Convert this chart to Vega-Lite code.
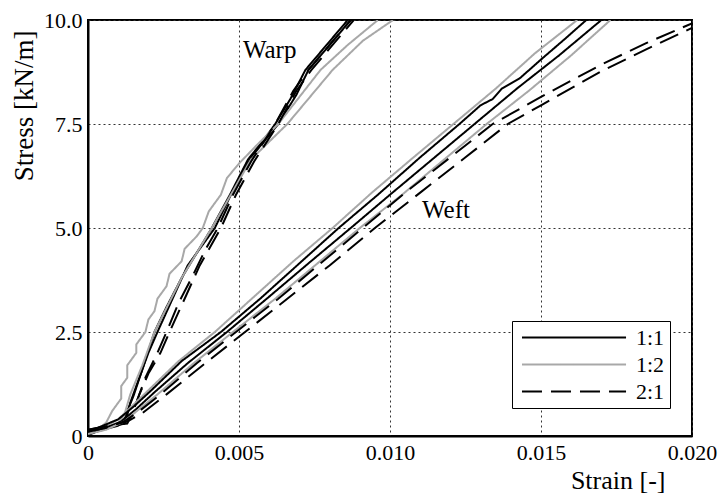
{
  "$schema": "https://vega.github.io/schema/vega-lite/v6.json",
  "width": 604,
  "height": 416,
  "autosize": {"type": "none"},
  "padding": {"left": 88, "top": 20, "right": 28, "bottom": 60},
  "background": "white",
  "config": {
    "font": "Liberation Serif",
    "view": {"stroke": "black", "strokeWidth": 2},
    "axis": {
      "labelFont": "Liberation Serif",
      "labelFontSize": 22,
      "labelColor": "black",
      "titleFont": "Liberation Serif",
      "titleFontSize": 26,
      "titleFontWeight": "normal",
      "titleColor": "black",
      "domainColor": "black",
      "domainWidth": 2,
      "ticks": false,
      "labelPadding": 6,
      "labelFlush": false,
      "grid": true,
      "gridColor": "#333333",
      "gridDash": [2, 3],
      "gridWidth": 1,
      "gridOpacity": 1
    },
    "legend": {
      "labelFont": "Liberation Serif",
      "labelFontSize": 22,
      "labelColor": "black"
    }
  },
  "layer": [
    {
      "data": {"values": [
        {"c":"wa-b1","r":"1:1","x":0,"y":0.05},{"c":"wa-b1","r":"1:1","x":0.0005,"y":0.15},{"c":"wa-b1","r":"1:1","x":0.0010,"y":0.25},{"c":"wa-b1","r":"1:1","x":0.0012,"y":0.35},{"c":"wa-b1","r":"1:1","x":0.0013,"y":0.6},{"c":"wa-b1","r":"1:1","x":0.0015,"y":0.95},{"c":"wa-b1","r":"1:1","x":0.0018,"y":1.6},{"c":"wa-b1","r":"1:1","x":0.0022,"y":2.5},{"c":"wa-b1","r":"1:1","x":0.0026,"y":3.1},{"c":"wa-b1","r":"1:1","x":0.0031,"y":3.8},{"c":"wa-b1","r":"1:1","x":0.0036,"y":4.4},{"c":"wa-b1","r":"1:1","x":0.0041,"y":5.0},{"c":"wa-b1","r":"1:1","x":0.0047,"y":5.8},{"c":"wa-b1","r":"1:1","x":0.0053,"y":6.65},{"c":"wa-b1","r":"1:1","x":0.0058,"y":7.1},{"c":"wa-b1","r":"1:1","x":0.0062,"y":7.5},{"c":"wa-b1","r":"1:1","x":0.0067,"y":8.1},{"c":"wa-b1","r":"1:1","x":0.0072,"y":8.8},{"c":"wa-b1","r":"1:1","x":0.0079,"y":9.4},{"c":"wa-b1","r":"1:1","x":0.0086,"y":10.0},
        {"c":"wa-b2","r":"1:1","x":0,"y":0.1},{"c":"wa-b2","r":"1:1","x":0.0006,"y":0.2},{"c":"wa-b2","r":"1:1","x":0.0011,"y":0.3},{"c":"wa-b2","r":"1:1","x":0.0013,"y":0.5},{"c":"wa-b2","r":"1:1","x":0.0014,"y":0.8},{"c":"wa-b2","r":"1:1","x":0.0017,"y":1.4},{"c":"wa-b2","r":"1:1","x":0.0020,"y":2.0},{"c":"wa-b2","r":"1:1","x":0.0023,"y":2.5},{"c":"wa-b2","r":"1:1","x":0.0028,"y":3.3},{"c":"wa-b2","r":"1:1","x":0.0033,"y":4.1},{"c":"wa-b2","r":"1:1","x":0.0042,"y":5.0},{"c":"wa-b2","r":"1:1","x":0.0048,"y":5.9},{"c":"wa-b2","r":"1:1","x":0.0054,"y":6.7},{"c":"wa-b2","r":"1:1","x":0.0063,"y":7.5},{"c":"wa-b2","r":"1:1","x":0.0069,"y":8.2},{"c":"wa-b2","r":"1:1","x":0.0073,"y":8.8},{"c":"wa-b2","r":"1:1","x":0.0080,"y":9.4},{"c":"wa-b2","r":"1:1","x":0.0087,"y":10.0},
        {"c":"wa-g1","r":"1:2","x":0,"y":0.05},{"c":"wa-g1","r":"1:2","x":0.0004,"y":0.2},{"c":"wa-g1","r":"1:2","x":0.0006,"y":0.32},{"c":"wa-g1","r":"1:2","x":0.0008,"y":0.6},{"c":"wa-g1","r":"1:2","x":0.0011,"y":0.9},{"c":"wa-g1","r":"1:2","x":0.0011,"y":1.2},{"c":"wa-g1","r":"1:2","x":0.0013,"y":1.4},{"c":"wa-g1","r":"1:2","x":0.0013,"y":1.7},{"c":"wa-g1","r":"1:2","x":0.0016,"y":2.0},{"c":"wa-g1","r":"1:2","x":0.0016,"y":2.2},{"c":"wa-g1","r":"1:2","x":0.0019,"y":2.5},{"c":"wa-g1","r":"1:2","x":0.0020,"y":2.8},{"c":"wa-g1","r":"1:2","x":0.0022,"y":3.0},{"c":"wa-g1","r":"1:2","x":0.0023,"y":3.3},{"c":"wa-g1","r":"1:2","x":0.0026,"y":3.6},{"c":"wa-g1","r":"1:2","x":0.0027,"y":3.9},{"c":"wa-g1","r":"1:2","x":0.0031,"y":4.2},{"c":"wa-g1","r":"1:2","x":0.0032,"y":4.5},{"c":"wa-g1","r":"1:2","x":0.0036,"y":4.8},{"c":"wa-g1","r":"1:2","x":0.0038,"y":5.0},{"c":"wa-g1","r":"1:2","x":0.0040,"y":5.4},{"c":"wa-g1","r":"1:2","x":0.0044,"y":5.8},{"c":"wa-g1","r":"1:2","x":0.0046,"y":6.2},{"c":"wa-g1","r":"1:2","x":0.0050,"y":6.55},{"c":"wa-g1","r":"1:2","x":0.0056,"y":7.0},{"c":"wa-g1","r":"1:2","x":0.0063,"y":7.5},{"c":"wa-g1","r":"1:2","x":0.0070,"y":8.15},{"c":"wa-g1","r":"1:2","x":0.0077,"y":8.8},{"c":"wa-g1","r":"1:2","x":0.0086,"y":9.4},{"c":"wa-g1","r":"1:2","x":0.0096,"y":10.0},
        {"c":"wa-g2","r":"1:2","x":0,"y":0.1},{"c":"wa-g2","r":"1:2","x":0.0006,"y":0.2},{"c":"wa-g2","r":"1:2","x":0.0010,"y":0.3},{"c":"wa-g2","r":"1:2","x":0.0012,"y":0.5},{"c":"wa-g2","r":"1:2","x":0.0014,"y":1.0},{"c":"wa-g2","r":"1:2","x":0.0018,"y":1.7},{"c":"wa-g2","r":"1:2","x":0.0022,"y":2.5},{"c":"wa-g2","r":"1:2","x":0.0031,"y":3.8},{"c":"wa-g2","r":"1:2","x":0.0041,"y":5.0},{"c":"wa-g2","r":"1:2","x":0.0054,"y":6.65},{"c":"wa-g2","r":"1:2","x":0.0066,"y":7.5},{"c":"wa-g2","r":"1:2","x":0.0081,"y":8.8},{"c":"wa-g2","r":"1:2","x":0.0091,"y":9.5},{"c":"wa-g2","r":"1:2","x":0.0101,"y":10.0},
        {"c":"wa-d1","r":"2:1","x":0,"y":0.1},{"c":"wa-d1","r":"2:1","x":0.0006,"y":0.2},{"c":"wa-d1","r":"2:1","x":0.0012,"y":0.3},{"c":"wa-d1","r":"2:1","x":0.0014,"y":0.5},{"c":"wa-d1","r":"2:1","x":0.0016,"y":0.8},{"c":"wa-d1","r":"2:1","x":0.0019,"y":1.4},{"c":"wa-d1","r":"2:1","x":0.0023,"y":2.0},{"c":"wa-d1","r":"2:1","x":0.0026,"y":2.5},{"c":"wa-d1","r":"2:1","x":0.0030,"y":3.2},{"c":"wa-d1","r":"2:1","x":0.0035,"y":3.9},{"c":"wa-d1","r":"2:1","x":0.0039,"y":4.5},{"c":"wa-d1","r":"2:1","x":0.0043,"y":5.0},{"c":"wa-d1","r":"2:1","x":0.0048,"y":5.8},{"c":"wa-d1","r":"2:1","x":0.0054,"y":6.6},{"c":"wa-d1","r":"2:1","x":0.0062,"y":7.5},{"c":"wa-d1","r":"2:1","x":0.0068,"y":8.3},{"c":"wa-d1","r":"2:1","x":0.0073,"y":8.8},{"c":"wa-d1","r":"2:1","x":0.0080,"y":9.4},{"c":"wa-d1","r":"2:1","x":0.0087,"y":10.0},
        {"c":"wa-d2","r":"2:1","x":0,"y":0.15},{"c":"wa-d2","r":"2:1","x":0.0007,"y":0.25},{"c":"wa-d2","r":"2:1","x":0.0013,"y":0.3},{"c":"wa-d2","r":"2:1","x":0.0015,"y":0.6},{"c":"wa-d2","r":"2:1","x":0.0017,"y":1.0},{"c":"wa-d2","r":"2:1","x":0.0020,"y":1.5},{"c":"wa-d2","r":"2:1","x":0.0024,"y":2.0},{"c":"wa-d2","r":"2:1","x":0.0027,"y":2.5},{"c":"wa-d2","r":"2:1","x":0.0032,"y":3.3},{"c":"wa-d2","r":"2:1","x":0.0037,"y":4.1},{"c":"wa-d2","r":"2:1","x":0.0044,"y":5.0},{"c":"wa-d2","r":"2:1","x":0.0049,"y":5.8},{"c":"wa-d2","r":"2:1","x":0.0055,"y":6.6},{"c":"wa-d2","r":"2:1","x":0.0063,"y":7.5},{"c":"wa-d2","r":"2:1","x":0.0069,"y":8.3},{"c":"wa-d2","r":"2:1","x":0.0074,"y":8.8},{"c":"wa-d2","r":"2:1","x":0.0081,"y":9.4},{"c":"wa-d2","r":"2:1","x":0.0088,"y":10.0},
        {"c":"we-g1","r":"1:2","x":0,"y":0.05},{"c":"we-g1","r":"1:2","x":0.0005,"y":0.2},{"c":"we-g1","r":"1:2","x":0.0010,"y":0.4},{"c":"we-g1","r":"1:2","x":0.0015,"y":0.75},{"c":"we-g1","r":"1:2","x":0.0020,"y":1.1},{"c":"we-g1","r":"1:2","x":0.0030,"y":1.8},{"c":"we-g1","r":"1:2","x":0.0042,"y":2.5},{"c":"we-g1","r":"1:2","x":0.0055,"y":3.35},{"c":"we-g1","r":"1:2","x":0.0068,"y":4.2},{"c":"we-g1","r":"1:2","x":0.0081,"y":5.0},{"c":"we-g1","r":"1:2","x":0.0094,"y":5.85},{"c":"we-g1","r":"1:2","x":0.0107,"y":6.65},{"c":"we-g1","r":"1:2","x":0.0121,"y":7.5},{"c":"we-g1","r":"1:2","x":0.0135,"y":8.35},{"c":"we-g1","r":"1:2","x":0.0148,"y":9.2},{"c":"we-g1","r":"1:2","x":0.0162,"y":10.0},
        {"c":"we-b1","r":"1:1","x":0,"y":0.1},{"c":"we-b1","r":"1:1","x":0.0005,"y":0.25},{"c":"we-b1","r":"1:1","x":0.0010,"y":0.4},{"c":"we-b1","r":"1:1","x":0.0015,"y":0.7},{"c":"we-b1","r":"1:1","x":0.0021,"y":1.1},{"c":"we-b1","r":"1:1","x":0.0031,"y":1.8},{"c":"we-b1","r":"1:1","x":0.0044,"y":2.5},{"c":"we-b1","r":"1:1","x":0.0057,"y":3.3},{"c":"we-b1","r":"1:1","x":0.0070,"y":4.15},{"c":"we-b1","r":"1:1","x":0.0083,"y":5.0},{"c":"we-b1","r":"1:1","x":0.0096,"y":5.8},{"c":"we-b1","r":"1:1","x":0.0110,"y":6.7},{"c":"we-b1","r":"1:1","x":0.0123,"y":7.5},{"c":"we-b1","r":"1:1","x":0.0130,"y":7.95},{"c":"we-b1","r":"1:1","x":0.0134,"y":8.1},{"c":"we-b1","r":"1:1","x":0.0137,"y":8.35},{"c":"we-b1","r":"1:1","x":0.0143,"y":8.6},{"c":"we-b1","r":"1:1","x":0.0150,"y":9.05},{"c":"we-b1","r":"1:1","x":0.0158,"y":9.55},{"c":"we-b1","r":"1:1","x":0.0165,"y":10.0},
        {"c":"we-b2","r":"1:1","x":0,"y":0.02},{"c":"we-b2","r":"1:1","x":0.0006,"y":0.2},{"c":"we-b2","r":"1:1","x":0.0011,"y":0.35},{"c":"we-b2","r":"1:1","x":0.0016,"y":0.65},{"c":"we-b2","r":"1:1","x":0.0022,"y":1.05},{"c":"we-b2","r":"1:1","x":0.0033,"y":1.75},{"c":"we-b2","r":"1:1","x":0.0046,"y":2.5},{"c":"we-b2","r":"1:1","x":0.0060,"y":3.35},{"c":"we-b2","r":"1:1","x":0.0073,"y":4.15},{"c":"we-b2","r":"1:1","x":0.0087,"y":5.0},{"c":"we-b2","r":"1:1","x":0.0100,"y":5.8},{"c":"we-b2","r":"1:1","x":0.0114,"y":6.65},{"c":"we-b2","r":"1:1","x":0.0128,"y":7.5},{"c":"we-b2","r":"1:1","x":0.0142,"y":8.35},{"c":"we-b2","r":"1:1","x":0.0156,"y":9.15},{"c":"we-b2","r":"1:1","x":0.0170,"y":10.0},
        {"c":"we-g2","r":"1:2","x":0,"y":0.05},{"c":"we-g2","r":"1:2","x":0.0006,"y":0.15},{"c":"we-g2","r":"1:2","x":0.0012,"y":0.35},{"c":"we-g2","r":"1:2","x":0.0017,"y":0.65},{"c":"we-g2","r":"1:2","x":0.0023,"y":1.0},{"c":"we-g2","r":"1:2","x":0.0035,"y":1.75},{"c":"we-g2","r":"1:2","x":0.0048,"y":2.5},{"c":"we-g2","r":"1:2","x":0.0062,"y":3.3},{"c":"we-g2","r":"1:2","x":0.0076,"y":4.15},{"c":"we-g2","r":"1:2","x":0.0090,"y":5.0},{"c":"we-g2","r":"1:2","x":0.0104,"y":5.8},{"c":"we-g2","r":"1:2","x":0.0118,"y":6.65},{"c":"we-g2","r":"1:2","x":0.0132,"y":7.5},{"c":"we-g2","r":"1:2","x":0.0146,"y":8.3},{"c":"we-g2","r":"1:2","x":0.0160,"y":9.15},{"c":"we-g2","r":"1:2","x":0.0173,"y":10.0},
        {"c":"we-d1","r":"2:1","x":0,"y":0.1},{"c":"we-d1","r":"2:1","x":0.0006,"y":0.2},{"c":"we-d1","r":"2:1","x":0.0012,"y":0.35},{"c":"we-d1","r":"2:1","x":0.0017,"y":0.6},{"c":"we-d1","r":"2:1","x":0.0024,"y":1.0},{"c":"we-d1","r":"2:1","x":0.0036,"y":1.75},{"c":"we-d1","r":"2:1","x":0.0049,"y":2.5},{"c":"we-d1","r":"2:1","x":0.0063,"y":3.3},{"c":"we-d1","r":"2:1","x":0.0077,"y":4.15},{"c":"we-d1","r":"2:1","x":0.0091,"y":5.0},{"c":"we-d1","r":"2:1","x":0.0105,"y":5.85},{"c":"we-d1","r":"2:1","x":0.0120,"y":6.7},{"c":"we-d1","r":"2:1","x":0.0134,"y":7.5},{"c":"we-d1","r":"2:1","x":0.0150,"y":8.15},{"c":"we-d1","r":"2:1","x":0.0170,"y":8.93},{"c":"we-d1","r":"2:1","x":0.0185,"y":9.45},{"c":"we-d1","r":"2:1","x":0.0200,"y":9.92},
        {"c":"we-d2","r":"2:1","x":0,"y":0.15},{"c":"we-d2","r":"2:1","x":0.0007,"y":0.25},{"c":"we-d2","r":"2:1","x":0.0013,"y":0.35},{"c":"we-d2","r":"2:1","x":0.0018,"y":0.55},{"c":"we-d2","r":"2:1","x":0.0026,"y":1.0},{"c":"we-d2","r":"2:1","x":0.0038,"y":1.7},{"c":"we-d2","r":"2:1","x":0.0052,"y":2.5},{"c":"we-d2","r":"2:1","x":0.0066,"y":3.3},{"c":"we-d2","r":"2:1","x":0.0080,"y":4.1},{"c":"we-d2","r":"2:1","x":0.0095,"y":5.0},{"c":"we-d2","r":"2:1","x":0.0110,"y":5.85},{"c":"we-d2","r":"2:1","x":0.0125,"y":6.7},{"c":"we-d2","r":"2:1","x":0.0139,"y":7.5},{"c":"we-d2","r":"2:1","x":0.0150,"y":7.95},{"c":"we-d2","r":"2:1","x":0.0170,"y":8.77},{"c":"we-d2","r":"2:1","x":0.0185,"y":9.3},{"c":"we-d2","r":"2:1","x":0.0200,"y":9.81}
      ]},
      "mark": {"type": "line", "strokeWidth": 2, "clip": true},
      "encoding": {
        "x": {
          "field": "x", "type": "quantitative",
          "scale": {"domain": [0, 0.02], "nice": false, "zero": false},
          "axis": {
            "values": [0, 0.005, 0.01, 0.015, 0.02],
            "labelExpr": "datum.value == 0 ? '0' : format(datum.value, '.3f')",
            "title": "Strain [-]",
            "titleX": 577, "titleY": 52, "titleAlign": "right", "titleBaseline": "alphabetic"
          }
        },
        "y": {
          "field": "y", "type": "quantitative",
          "scale": {"domain": [0, 10], "nice": false},
          "axis": {
            "values": [0, 2.5, 5, 7.5, 10],
            "labelExpr": "datum.value == 0 ? '0' : format(datum.value, '.1f')",
            "title": "Stress [kN/m]",
            "titleFontSize": 27,
            "titleX": -56, "titleY": 10, "titleAlign": "right", "titleBaseline": "alphabetic", "titleAngle": 270
          }
        },
        "detail": {"field": "c"},
        "order": {"field": "y", "type": "quantitative"},
        "color": {
          "field": "r", "type": "nominal",
          "scale": {"domain": ["1:1", "1:2", "2:1"], "range": ["#000000", "#a8a8a8", "#000000"]},
          "legend": {
            "title": null, "orient": "none", "legendX": 424, "legendY": 301,
            "symbolType": "M-0.62,0H9.29", "symbolSize": 441, "symbolStrokeWidth": 2,
            "strokeColor": "black", "fillColor": "white", "padding": 5,
            "labelOffset": 96, "rowPadding": 4
          }
        },
        "strokeDash": {
          "field": "r", "type": "nominal",
          "scale": {"domain": ["1:1", "1:2", "2:1"], "range": [[1, 0], [1, 0], [20, 9]]},
          "legend": {
            "title": null, "orient": "none", "legendX": 424, "legendY": 301,
            "symbolType": "M-0.62,0H9.29", "symbolSize": 441, "symbolStrokeWidth": 2,
            "strokeColor": "black", "fillColor": "white", "padding": 5,
            "labelOffset": 96, "rowPadding": 4
          }
        }
      }
    },
    {
      "data": {"values": [
        {"label": "Warp", "x": 0.00513, "y": 9.29},
        {"label": "Weft", "x": 0.01106, "y": 5.44}
      ]},
      "mark": {"type": "text", "align": "left", "baseline": "middle", "font": "Liberation Serif", "fontSize": 25, "color": "black"},
      "encoding": {
        "x": {"field": "x", "type": "quantitative"},
        "y": {"field": "y", "type": "quantitative"},
        "text": {"field": "label"}
      }
    }
  ]
}
